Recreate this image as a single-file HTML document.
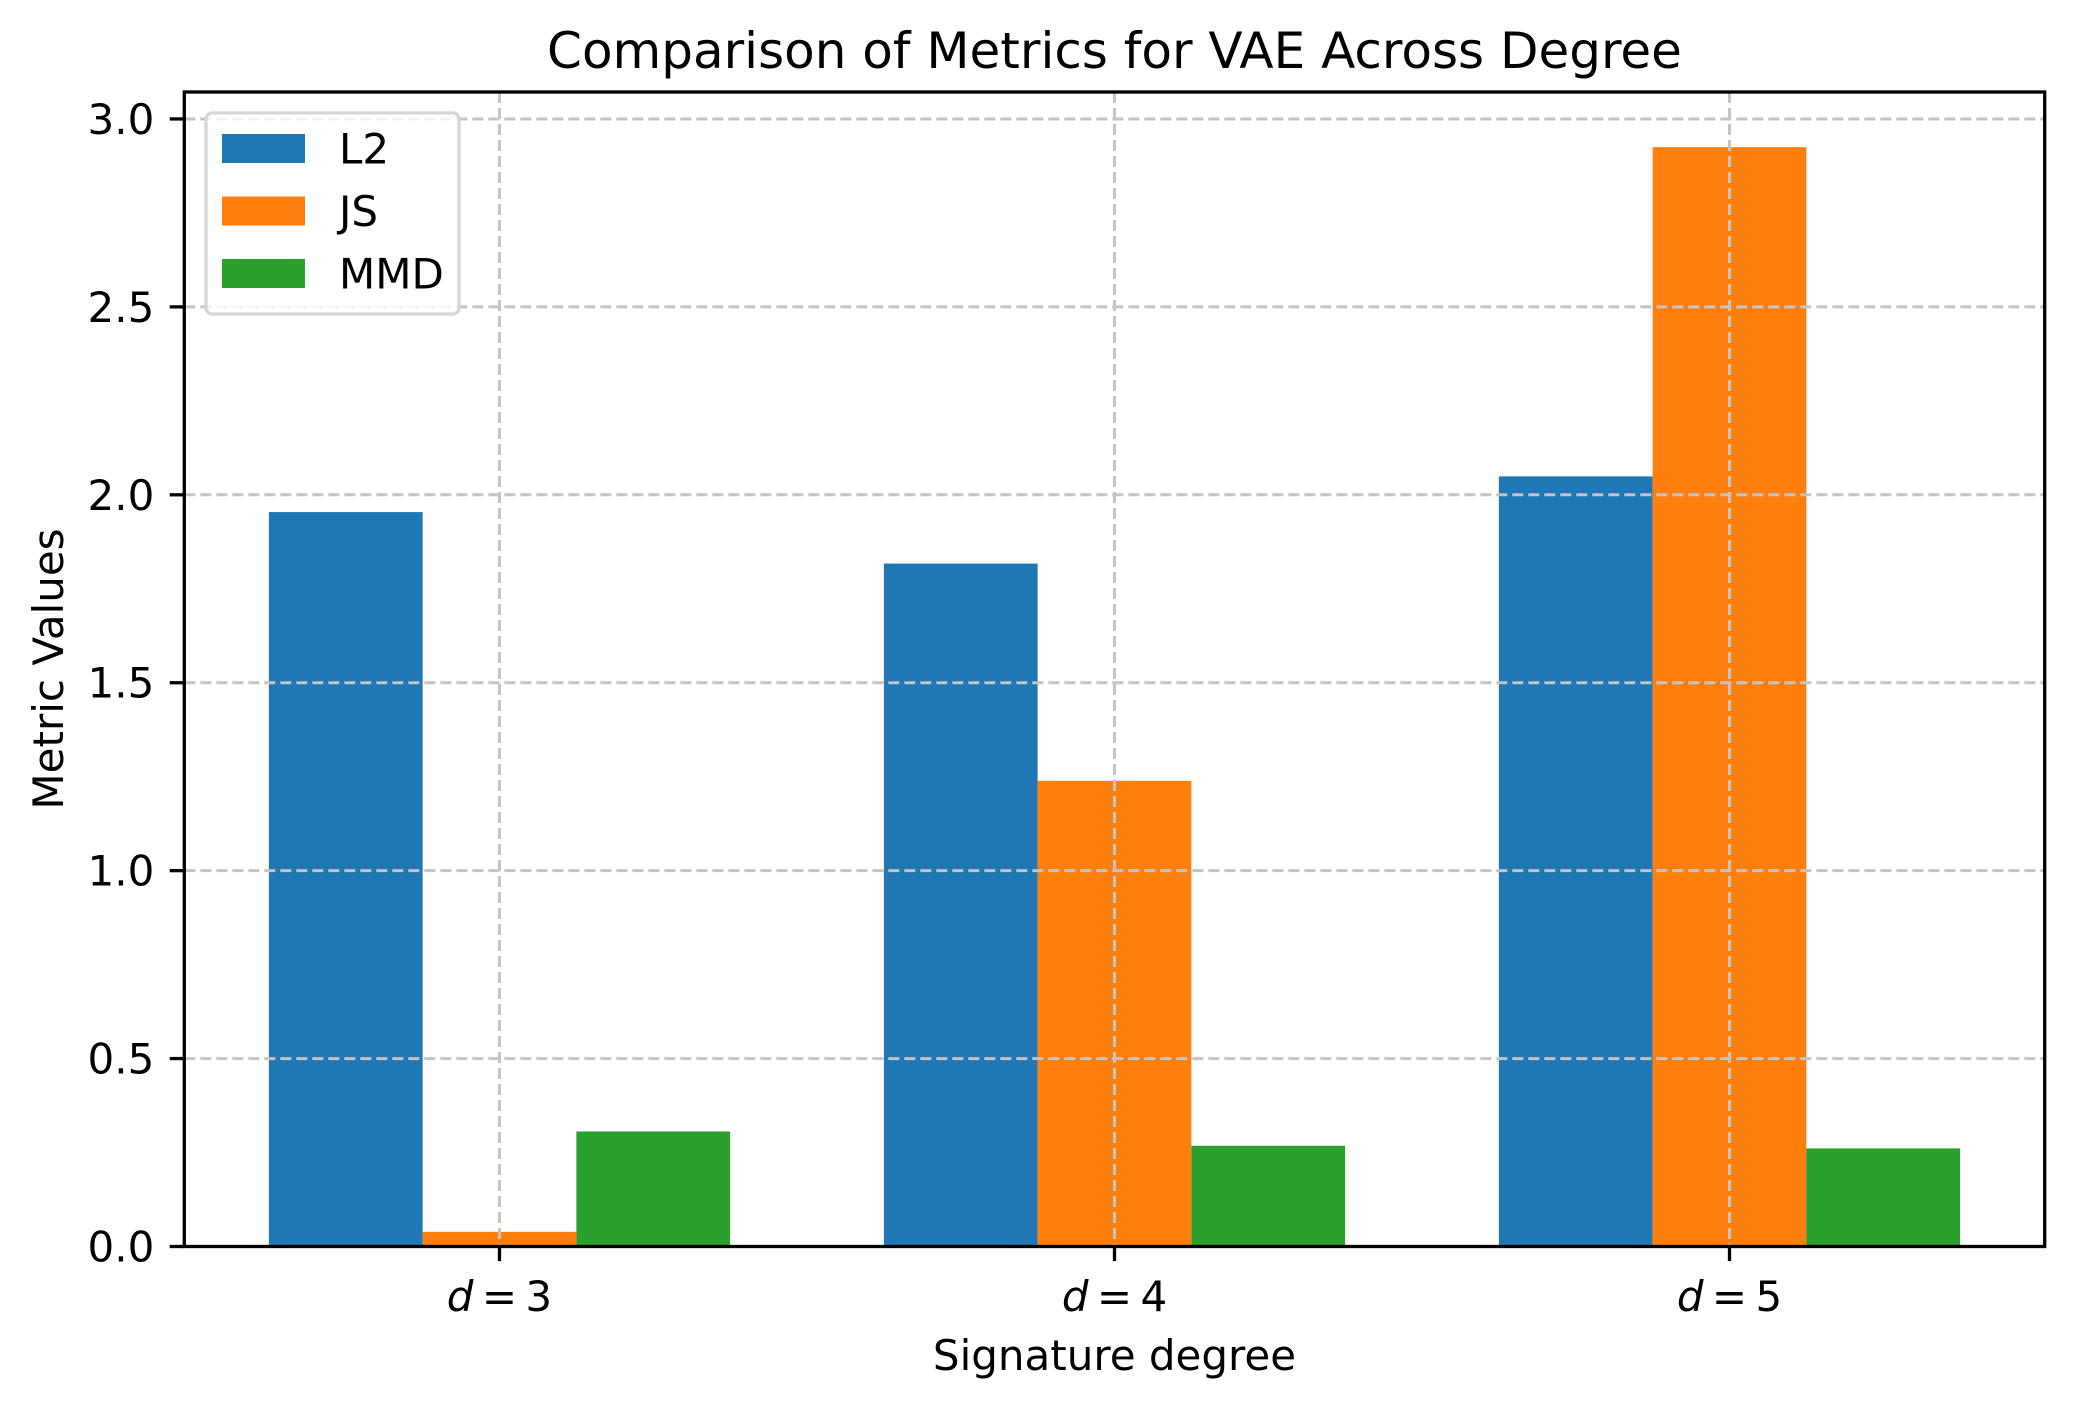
<!DOCTYPE html>
<html><head><meta charset="utf-8"><style>
html,body{margin:0;padding:0;background:#fff;}
svg text{font-family:"DejaVu Sans","Liberation Sans",sans-serif;fill:#000;}
</style></head><body>
<svg id="chart" width="2074" height="1407" viewBox="0 0 2074 1407" xmlns="http://www.w3.org/2000/svg">
<rect width="2074" height="1407" fill="#fff"/>
<g id="bars"></g>
<g id="grid"></g>
<g id="axes"></g>
<text x="1114.5" y="68" font-size="50" text-anchor="middle">Comparison of Metrics for VAE Across Degree</text>
<text x="1114.5" y="1370" font-size="42" text-anchor="middle">Signature degree</text>
<text x="0" y="0" font-size="42" text-anchor="middle" transform="translate(63,669) rotate(-90)">Metric Values</text>
<g id="legend"></g>
</svg>
<script>
const categories = ["3", "4", "5"];
const seriesNames = ["L2", "JS", "MMD"];
const seriesColors = ["#1f77b4", "#ff7f0e", "#2ca02c"];
const l2Values = [1.954, 1.817, 2.049];
const jsValues = [0.039, 1.239, 2.925];
const mmdValues = [0.306, 0.268, 0.261];
const yTicks = [0, 0.5, 1.0, 1.5, 2.0, 2.5, 3.0];
const yTickLabels = ["0.0", "0.5", "1.0", "1.5", "2.0", "2.5", "3.0"];

const NS = "http://www.w3.org/2000/svg";
const L = 184.3, R = 2044.7, T = 92, B = 1246.5;
const xMin = -0.5125, xMax = 2.5125, yMin = 0, yMax = 3.0717;
function xs(v){ return L + (v - xMin) / (xMax - xMin) * (R - L); }
function ys(v){ return B - (v - yMin) / (yMax - yMin) * (B - T); }
function mk(tag, attrs, parent){ const e = document.createElementNS(NS, tag); for (const k in attrs) e.setAttribute(k, attrs[k]); parent.appendChild(e); return e; }

const series = [l2Values, jsValues, mmdValues];
const barW = 0.25;
const barsG = document.getElementById('bars');
series.forEach((vals, s) => {
  vals.forEach((v, i) => {
    const c = i + (s - 1) * barW;
    const x0 = xs(c - barW / 2), x1 = xs(c + barW / 2);
    const r = mk('rect', {x: x0, y: ys(v), width: x1 - x0, height: ys(0) - ys(v), fill: seriesColors[s]}, barsG);
    
    
  });
});

const gridG = document.getElementById('grid');
yTicks.forEach(t => {
  const l = mk('line', {x1: L, x2: R, y1: ys(t), y2: ys(t), stroke: '#c4c4c4', 'stroke-width': 3, 'stroke-dasharray': '11,5'}, gridG);
  
  
});
categories.forEach((c, i) => {
  const l = mk('line', {x1: xs(i), x2: xs(i), y1: T, y2: B, stroke: '#c4c4c4', 'stroke-width': 3, 'stroke-dasharray': '11,5'}, gridG);
  
  
});

const axG = document.getElementById('axes');
const frame = mk('rect', {x: L, y: T, width: R - L, height: B - T, fill: 'none', stroke: '#000', 'stroke-width': 3.3}, axG);


yTicks.forEach((t, i) => {
  const tk = mk('line', {x1: L - 14.6, x2: L, y1: ys(t), y2: ys(t), stroke: '#000', 'stroke-width': 3.3}, axG);
  
  
  const tx = mk('text', {x: L - 30, y: ys(t) + 15, 'font-size': 42, 'text-anchor': 'end'}, axG);
  tx.textContent = yTickLabels[i];
  
  
});
categories.forEach((c, i) => {
  const tk = mk('line', {x1: xs(i), x2: xs(i), y1: B, y2: B + 14.6, stroke: '#000', 'stroke-width': 3.3}, axG);
  
  
  const tx = mk('text', {x: xs(i), y: 1311, 'font-size': 42, 'text-anchor': 'middle'}, axG);
  const a = mk('tspan', {'font-style': 'italic'}, tx); a.textContent = 'd';
  const b = mk('tspan', {}, tx); b.textContent = '\u2009=\u2009' + c;
  
  
});

const lg = document.getElementById('legend');
const box = mk('rect', {x: 206, y: 113, width: 253, height: 201, rx: 6, fill: '#fff', 'fill-opacity': 0.8, stroke: '#d6d6d6', 'stroke-width': 3.3}, lg);


const rowsY = [148.5, 211, 273.5];
seriesNames.forEach((n, s) => {
  const p = mk('rect', {x: 222, y: rowsY[s] - 14.5, width: 83, height: 29, fill: seriesColors[s]}, lg);
  
  
  const t = mk('text', {x: 339, y: rowsY[s] + 15, 'font-size': 42}, lg);
  t.textContent = n;
  
  
});
</script>
</body></html>
